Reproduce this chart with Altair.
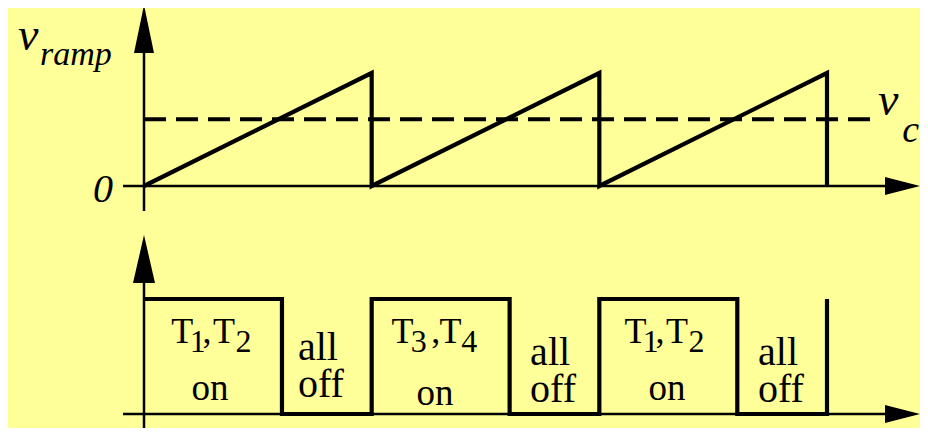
import altair as alt
import pandas as pd

# ---------------- data ----------------
# sawtooth ramp (one unit = one switching period, peak = 1)
ramp_t = [0, 1, 1, 2, 2, 3, 3]
ramp_v = [0, 1, 0, 1, 0, 1, 0]
# control voltage v_c (dashed)
vc_t = [0.0, 3.19]
vc_v = [0.59, 0.59]
# gate pulse pattern
pulse_t = [0, 0.606, 0.606, 1, 1, 1.606, 1.606, 2, 2, 2.606, 2.606, 3, 3]
pulse_v = [1, 1, 0, 0, 1, 1, 0, 0, 1, 1, 0, 0, 1]

# labels of the pulse plot (pieces: main text + subscripts)
tl_text = ["T", "1", ",", "T", "2",
           "T", "3", ",", "T", "4",
           "T", "1", ",", "T", "2"]
tl_t = [0.120, 0.201, 0.257, 0.303, 0.402,
        1.087, 1.172, 1.262, 1.298, 1.393,
        2.110, 2.191, 2.247, 2.293, 2.392]
tl_v = [0.617, 0.539, 0.617, 0.617, 0.539] * 3
tl_size = [36, 32, 36, 36, 32] * 3

on_t = [0.290, 1.278, 2.297]
on_v = [0.122, 0.080, 0.122]

off_text = ["all", "off", "all", "off", "all", "off"]
off_t = [0.676, 0.676, 1.696, 1.696, 2.697, 2.697]
off_v = [0.470, 0.148, 0.426, 0.104, 0.426, 0.104]

# italic labels of the ramp plot
it_text = ["v", "ramp", "v", "c"]
it_t = [-0.553, -0.457, 3.224, 3.330]
it_v = [1.204, 1.071, 0.628, 0.389]
it_size = [46, 34, 46, 38]

# ---------------- layout ----------------
W, H = 912, 420
X_DOM = [-0.59736, 3.40849]
RAMP_DOM = [-2.14159, 1.57522]
PULSE_DOM = [-0.12174, 3.53043]

FONT = "Liberation Serif"


def xs():
    return alt.X("t:Q", scale=alt.Scale(domain=X_DOM, nice=False, zero=False), axis=None)


def ys(dom, field="v"):
    return alt.Y(f"{field}:Q", scale=alt.Scale(domain=dom, nice=False, zero=False), axis=None)


ramp_df = pd.DataFrame({"t": ramp_t, "v": ramp_v, "i": range(len(ramp_t))})
vc_df = pd.DataFrame({"t": vc_t, "v": vc_v})
pulse_df = pd.DataFrame({"t": pulse_t, "v": pulse_v, "i": range(len(pulse_t))})

ramp = alt.Chart(ramp_df).mark_line(color="black", strokeWidth=4.2, strokeJoin="miter").encode(
    x=xs(), y=ys(RAMP_DOM), order="i:Q")
vc = alt.Chart(vc_df).mark_line(color="black", strokeWidth=4, strokeDash=[22, 10]).encode(
    x=xs(), y=ys(RAMP_DOM))
pulse = alt.Chart(pulse_df).mark_line(color="black", strokeWidth=4.2, strokeJoin="miter").encode(
    x=xs(), y=ys(PULSE_DOM), order="i:Q")

# axes (drawn as rules + arrowheads)
hax = pd.DataFrame({"t": [-0.092], "t2": [3.30], "v": [0.0]})
up_vax = pd.DataFrame({"t": [0.0], "v": [-0.221], "v2": [1.45]})
lo_vax = pd.DataFrame({"t": [0.0], "v": [-0.12174], "v2": [1.40]})

up_h = alt.Chart(hax).mark_rule(color="black", strokeWidth=2.5).encode(
    x=xs(), x2="t2:Q", y=ys(RAMP_DOM))
up_v = alt.Chart(up_vax).mark_rule(color="black", strokeWidth=2.5).encode(
    x=xs(), y=ys(RAMP_DOM), y2="v2:Q")
lo_h = alt.Chart(hax).mark_rule(color="black", strokeWidth=2.5).encode(
    x=xs(), x2="t2:Q", y=ys(PULSE_DOM))
lo_v = alt.Chart(lo_vax).mark_rule(color="black", strokeWidth=2.5).encode(
    x=xs(), y=ys(PULSE_DOM), y2="v2:Q")

ARROW_UP = "M0,0L10,48L-10,48Z"
ARROW_UP_L = "M0,0L11,48L-11,48Z"
ARROW_RIGHT = "M0,0L-35,-9L-35,9Z"

up_tip_v = alt.Chart(pd.DataFrame({"t": [0.0], "v": [1.602]})).mark_point(
    shape=ARROW_UP, size=4, filled=True, color="black", opacity=1, strokeWidth=0).encode(
    x=xs(), y=ys(RAMP_DOM))
up_tip_h = alt.Chart(pd.DataFrame({"t": [3.4085], "v": [0.0]})).mark_point(
    shape=ARROW_RIGHT, size=4, filled=True, color="black", opacity=1, strokeWidth=0).encode(
    x=xs(), y=ys(RAMP_DOM))
lo_tip_v = alt.Chart(pd.DataFrame({"t": [0.0], "v": [1.5565]})).mark_point(
    shape=ARROW_UP_L, size=4, filled=True, color="black", opacity=1, strokeWidth=0).encode(
    x=xs(), y=ys(PULSE_DOM))
lo_tip_h = alt.Chart(pd.DataFrame({"t": [3.4085], "v": [0.0]})).mark_point(
    shape=ARROW_RIGHT, size=4, filled=True, color="black", opacity=1, strokeWidth=0).encode(
    x=xs(), y=ys(PULSE_DOM))

# texts
tl_df = pd.DataFrame({"t": tl_t, "v": tl_v, "text": tl_text, "size": tl_size})
tl = alt.Chart(tl_df).mark_text(font=FONT, align="left", baseline="alphabetic", color="black").encode(
    x=xs(), y=ys(PULSE_DOM), text="text:N", size=alt.Size("size:Q", scale=None, legend=None))

on_df = pd.DataFrame({"t": on_t, "v": on_v, "text": ["on"] * 3})
on = alt.Chart(on_df).mark_text(font=FONT, align="center", baseline="alphabetic", color="black",
                                fontSize=37).encode(x=xs(), y=ys(PULSE_DOM), text="text:N")

off_df = pd.DataFrame({"t": off_t, "v": off_v, "text": off_text})
off = alt.Chart(off_df).mark_text(font=FONT, align="left", baseline="alphabetic", color="black",
                                  fontSize=40).encode(x=xs(), y=ys(PULSE_DOM), text="text:N")

it_df = pd.DataFrame({"t": it_t, "v": it_v, "text": it_text, "size": it_size})
it = alt.Chart(it_df).mark_text(font=FONT, fontStyle="italic", align="left", baseline="alphabetic",
                                color="black").encode(
    x=xs(), y=ys(RAMP_DOM), text="text:N", size=alt.Size("size:Q", scale=None, legend=None))

zero_df = pd.DataFrame({"t": [-0.136], "v": [-0.1416], "text": ["0"]})
zero = alt.Chart(zero_df).mark_text(font=FONT, fontStyle="italic", align="right", baseline="alphabetic",
                                    color="black", fontSize=40).encode(
    x=xs(), y=ys(RAMP_DOM), text="text:N")

chart = alt.layer(
    up_h, up_v, lo_h, lo_v,
    vc, ramp, pulse,
    up_tip_v, up_tip_h, lo_tip_v, lo_tip_h,
    tl, on, off, it, zero,
).resolve_scale(y="independent").properties(
    width=W, height=H,
    autosize=alt.AutoSizeParams(type="none"),
    padding=0,
    background="#FFFF99",
).configure_view(stroke=None)

chart.save("out.html", embed_options={"renderer": "svg", "actions": False})
